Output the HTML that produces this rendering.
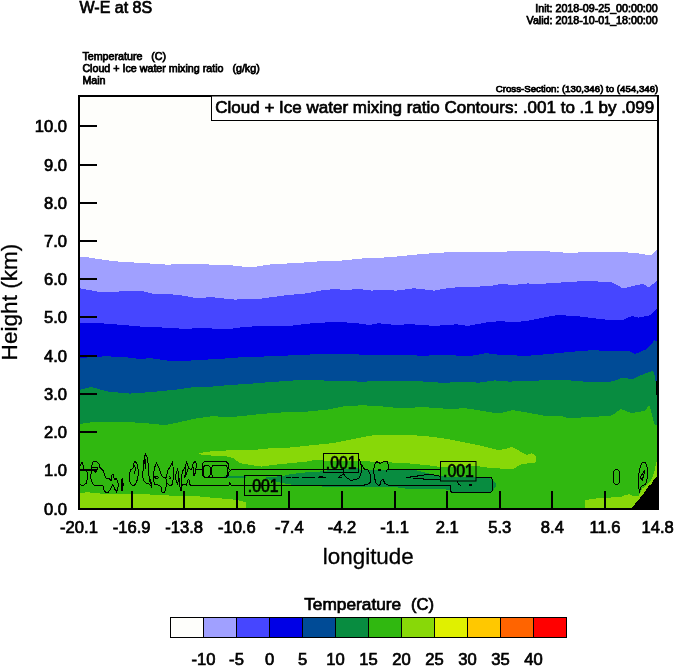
<!DOCTYPE html>
<html lang="en">
<head>
<meta charset="utf-8">
<title>W-E at 8S</title>
<style>
html,body{margin:0;padding:0;background:#fff;}
body{width:674px;height:667px;overflow:hidden;}
svg{display:block;font-family:"Liberation Sans",Arial,Helvetica,sans-serif;fill:#000;}
text{stroke:#000;stroke-width:0.7px;}
text.s{stroke-width:0.75px;}
text.b{stroke-width:0.3px;}
</style>
</head>
<body>
<svg width="674" height="667" viewBox="0 0 674 667">
<rect width="674" height="667" fill="#fff"/>
<g shape-rendering="crispEdges">
<rect x="80" y="97" width="577" height="411" fill="#fefefb"/>
<polygon fill="#a0a0ff" points="80.0,257.5 84.7,256.9 98.0,259.0 116.0,261.4 145.5,263.2 168.0,264.7 179.0,264.0 199.4,264.0 213.0,264.7 228.0,265.0 241.5,266.5 257.0,266.5 273.0,264.0 295.5,263.2 318.0,261.4 340.4,260.7 363.0,258.4 378.0,258.0 400.5,256.2 423.0,253.9 445.5,252.4 468.0,251.7 490.4,252.4 513.0,251.2 528.0,250.6 546.5,251.2 569.0,253.0 591.5,251.7 614.0,251.7 636.4,253.0 650.0,255.3 653.0,254.0 657.0,249.4 657.0,508.0 80.0,508.0"/>
<polygon fill="#4646ff" points="80.0,288.3 98.2,291.7 114.0,292.2 123.0,291.0 143.0,291.3 154.5,294.0 177.0,294.6 195.0,297.8 213.0,297.3 228.0,298.9 234.7,299.6 261.7,298.5 284.0,295.5 306.7,293.3 324.7,289.9 336.0,289.0 345.0,290.1 358.4,289.0 372.0,290.6 378.0,289.5 396.0,290.6 414.0,288.3 434.2,290.6 450.0,287.7 472.4,286.8 490.4,286.1 501.7,283.8 513.0,285.0 528.0,283.4 535.0,284.3 557.7,282.7 587.0,280.9 611.7,282.3 623.0,288.3 643.0,283.8 648.8,287.7 657.0,280.5 657.0,508.0 80.0,508.0"/>
<polygon fill="#0000e6" points="80.0,322.7 100.5,323.2 123.0,325.0 145.5,327.0 168.0,327.7 183.7,328.8 204.0,328.1 228.0,329.3 241.5,327.2 261.7,325.9 288.7,326.1 306.7,323.7 324.7,322.5 340.4,322.0 356.2,323.2 369.7,325.0 378.0,323.2 393.7,324.8 411.7,324.3 434.2,325.9 456.7,324.3 468.0,325.9 486.0,322.5 501.7,321.0 513.0,322.5 528.0,320.7 557.7,314.9 580.0,316.5 607.0,319.8 623.0,319.8 632.0,316.0 638.7,317.6 650.0,315.3 657.0,308.6 657.0,508.0 80.0,508.0"/>
<polygon fill="#004b96" points="80.0,358.0 105.0,356.3 123.0,356.9 141.0,359.2 150.0,358.0 172.4,361.4 195.0,360.3 213.0,359.2 228.0,358.3 246.0,356.9 273.0,356.3 295.5,355.1 318.0,354.2 340.4,353.6 363.0,354.7 378.0,354.6 400.5,354.7 423.0,355.8 445.5,354.7 468.0,356.5 486.0,353.1 501.7,355.1 528.0,355.8 546.5,354.2 569.0,352.0 591.5,350.2 614.0,351.1 629.7,351.1 634.6,353.9 640.0,352.0 647.0,349.0 651.0,344.8 654.4,339.9 657.0,341.5 657.0,508.0 80.0,508.0"/>
<polygon fill="#088c40" points="80.0,389.7 91.5,387.0 107.0,391.4 129.7,393.6 152.0,392.0 174.7,389.8 195.0,386.9 213.0,386.5 228.0,385.2 250.5,383.7 273.0,381.9 295.5,380.3 318.0,380.3 340.4,381.0 363.0,381.7 378.0,381.0 411.7,380.6 418.5,381.2 441.0,382.7 468.0,382.1 479.0,382.7 495.0,380.4 510.0,381.7 522.0,380.5 528.0,381.2 546.5,380.0 569.0,380.3 591.5,382.3 609.5,381.7 614.0,381.1 620.6,378.2 626.4,378.2 632.0,379.5 638.7,376.2 647.0,372.9 652.8,370.9 654.4,374.5 655.2,381.1 657.0,381.1 657.0,508.0 80.0,508.0"/>
<polygon fill="#30b810" points="80.0,424.0 91.5,422.2 118.5,421.7 141.0,422.8 165.7,425.1 179.0,422.2 197.0,418.3 213.0,416.1 228.0,417.4 241.5,416.1 261.7,413.9 284.0,412.3 306.7,411.6 329.2,409.4 345.0,406.0 363.0,405.3 378.0,406.0 400.5,408.2 423.0,407.1 445.5,408.7 466.7,408.4 481.0,410.7 493.4,412.8 502.3,412.8 513.0,410.1 523.7,411.9 543.3,415.5 560.0,415.7 569.0,418.3 591.5,416.8 609.5,416.1 614.0,414.1 620.6,409.2 630.5,412.5 635.4,412.5 645.3,410.8 649.0,405.0 651.0,410.8 654.4,424.0 657.0,425.6 657.0,508.0 80.0,508.0"/>
<polygon fill="#88d808"  points="80.0,492.8 88.0,492.3 100.5,493.5 111.0,493.5 132.8,494.0 161.0,494.8 177.7,496.2 199.9,496.5 216.5,498.2 229.8,499.0 239.7,500.7 245.5,502.3 246.4,508.0 80.0,508.0"/>
<polygon fill="#88d808"  points="584.8,508.0 584.8,500.6 591.4,499.0 602.7,497.7 619.8,497.3 625.3,495.1 629.6,494.3 633.0,496.2 638.4,496.2 640.0,493.0 642.3,488.5 644.0,487.4 647.2,484.2 650.5,480.9 652.7,476.5 654.6,471.0 656.0,463.3 657.0,460.0 657.0,508.0"/>
<polygon fill="#088c40"  points="265.7,477.5 272.0,476.8 281.0,476.3 291.6,474.0 304.0,472.6 318.6,471.6 323.5,471.2 335.0,468.8 358.6,468.4 360.0,469.6 388.0,469.6 415.0,470.0 423.0,472.0 431.6,474.3 440.4,476.0 450.0,477.0 476.0,477.5 488.0,477.6 491.0,479.0 494.0,481.5 496.8,485.0 494.0,489.0 491.5,491.8 470.0,492.0 451.7,492.0 450.5,489.6 440.0,489.4 425.0,489.2 402.0,488.4 397.0,487.4 381.5,487.2 345.0,487.3 334.0,487.3 315.7,486.1 304.0,485.1 291.6,484.7 281.0,482.7 272.0,480.5 265.7,478.5"/>
<polygon fill="#088c40"  points="223.0,476.3 235.0,475.9 246.0,476.3 246.0,478.3 230.0,478.3"/>
<polygon fill="#88d808"  points="199.5,453.5 205.0,452.0 216.5,450.8 233.0,450.3 249.7,449.6 256.6,449.6 273.2,448.0 289.9,447.5 306.5,445.8 323.0,444.1 331.6,443.3 348.2,440.0 364.8,436.7 373.0,435.3 396.0,434.8 415.0,435.3 431.6,436.7 448.2,439.2 464.8,442.5 481.5,445.8 498.0,450.0 504.7,449.1 511.6,447.0 518.0,450.0 521.6,452.4 526.6,454.9 531.6,453.3 535.7,455.8 536.0,462.4 531.0,463.2 521.6,464.0 518.0,466.0 513.3,469.0 508.0,469.5 498.0,468.2 484.8,467.4 476.5,465.7 440.0,467.0 431.6,465.7 415.0,464.0 406.4,463.2 389.8,462.4 369.8,461.5 359.9,460.8 323.0,460.5 314.8,459.9 306.5,461.6 289.9,463.2 273.2,464.9 261.6,466.6 250.0,464.9 240.0,463.2 233.0,458.0 228.0,456.6 216.5,455.8 201.5,455.0"/>
<polygon fill="#000"  points="631.8,508.0 640.6,497.3 643.9,493.0 648.3,486.4 651.6,483.6 654.9,478.1 657.0,476.5 657.0,508.0"/>
<polygon fill="#000"  points="655.6,381.0 657.0,381.0 657.0,394.5 655.6,394.5"/>
</g>
<g shape-rendering="crispEdges">
<path fill="none" stroke="#000" stroke-width="1" d="M80.0,466.0 L82.1,462.4 L83.6,466.8 L84.0,469.0 M86.9,471.3 L87.6,478.0 L86.2,483.2 L83.2,485.8 L80.0,484.6 M93.2,461.3 L96.5,461.3 L99.1,463.9 L99.9,467.6 L103.2,470.5 L104.7,475.0 L105.8,478.0 L109.2,478.7 L111.0,480.6 L112.1,475.0 L113.2,474.3 L114.3,479.4 L116.6,478.7 L118.1,483.2 L118.4,485.4 L116.6,492.0 L115.1,489.8 L113.6,485.4 L112.9,484.6 L110.6,489.1 L108.0,492.4 L105.4,492.0 L103.6,489.8 L102.9,485.8 L93.6,485.0 L91.7,481.7 L90.2,476.5 L91.7,471.3 L92.1,463.9Z M92.5,467.5 L97.5,467.8 L97.5,470.0 M94.0,471.8 L96.5,471.8 L95.3,473.0 M122.1,478.3 L121.0,485.0 L122.1,491.3 L123.3,485.0Z M122.1,478.3 L122.1,491.3 M135.2,461.0 L137.2,464.7 L138.5,471.2 L137.7,478.6 L135.6,484.3 L133.2,485.9 L130.3,483.5 L129.1,476.9 L130.3,470.4 L133.2,467.6 L134.0,463.1Z M134.8,464.7 L135.2,469.6 L134.6,474.5 M145.4,454.1 L147.4,457.3 L148.3,466.3 L149.1,476.9 L151.1,482.7 L151.1,486.3 L148.7,483.5 L146.6,483.9 L143.8,481.0 L142.6,476.9 L143.4,466.3 L144.2,458.2Z M144.6,459.0 L145.4,468.8 M145.4,459.0 L145.6,468.8 M149.5,480.0 L150.5,484.0 M156.4,463.1 L159.3,468.8 L161.3,474.5 L162.1,476.5 L165.8,478.2 L166.6,482.7 L165.8,489.2 L164.2,492.4 L161.7,492.0 L160.9,486.7 L159.3,485.1 L154.8,484.7 L153.6,481.0 L153.2,474.5 L154.8,467.1Z M154.4,477.0 L157.7,476.5 L158.5,477.8 L156.0,478.6Z M165.8,478.2 L167.9,470.4 L170.7,465.5 L172.3,462.2 L173.2,467.6 L173.6,476.9 L172.3,484.3 L170.3,485.9 L168.3,484.3 L166.6,482.7 M169.5,476.0 L170.7,477.8 L169.5,478.6 M177.5,469.4 L176.3,473.0 L175.4,477.2 L176.6,482.0 L177.5,485.0 L178.3,480.0 L178.7,473.0Z M178.7,475.0 L179.3,480.5 L179.6,486.2 L180.5,488.6 L181.1,491.3 L181.7,488.6 L181.4,482.0 L181.7,476.0 L182.6,471.2 L184.4,468.8 L185.9,465.2 L186.5,461.3 L187.4,464.0 L188.3,467.0 L187.7,470.6 L186.2,474.2 L184.4,478.4 L185.0,474.8 L185.6,470.6 L185.3,466.0 M181.8,486.5 L182.6,485.0 L184.1,484.4 L186.2,485.0 L188.0,480.2 L188.9,479.6 L189.5,483.8 L190.4,485.2 L228.8,485.2 L230.0,482.6 L231.2,485.2 L244.5,485.2 M188.3,467.0 L189.2,468.8 L191.0,469.4 L192.5,467.6 L192.8,464.6 L194.6,461.3 L195.8,461.6 L196.4,465.2 L195.8,469.4 L195.5,472.4 L194.0,476.0 L193.4,474.2 L193.7,468.8 L192.8,466.5 M196.2,469.6 L202.3,469.6 M204.3,461.6 L226,461.6 L228,463.6 L228,468 L230.6,470.3 L228,473 L228,475.4 L226,477.4 L204.3,477.4 L202.3,475.4 L202.3,463.6 Z M206.8,465 C209.5,465 210.8,468 210.8,471.2 C210.8,474.5 209.5,477.4 206.8,477.4 C204.2,477.4 203,474.5 203,471.2 C203,468 204.2,465 206.8,465 Z M214,465 L225,465 C227,465 227.5,467 227.5,471 C227.5,475 227,477.4 225,477.4 L214,477.4 C212,477.4 211.5,475 211.5,471 C211.5,467 212,465 214,465 Z M230.6,469.5 L343.5,469.5 M244.5,485.5 L364.4,485.5 M339.0,476.7 L343.5,474.0 L343.0,468.0 M343.5,474.0 L346.6,477.6 L350.6,480.3 L354.1,479.8 L358.6,478.5 L360.8,474.9 L361.7,467.8 L360.4,461.6 L358.6,458.9 M361.7,465.1 L364.4,469.1 L367.9,470.0 L370.2,474.0 L370.6,480.3 L369.7,483.8 L364.4,484.6 L364.4,485.5 M376.8,461.6 L380.4,463.4 L383.5,461.6 L387.1,461.6 L388.4,465.1 L388.9,469.1 L387.1,469.6 L386.6,471.8 L387.5,472.5 M376.8,461.6 L374.6,464.2 L373.7,469.6 L374.2,476.7 L376.0,482.9 L378.6,485.6 L380.0,484.7 L381.3,480.3 L383.1,479.4 L384.9,483.4 L388.4,485.2 L392.0,485.5 M378.2,469.2 L380.8,469.2 M378.2,470.0 L380.8,470.0 M388.9,469.5 L440.5,469.5 M392.0,485.5 L450.5,485.5 L450.5,491.0 L452.0,492.4 L490.5,492.4 L492.1,491.0 L492.1,479.0 L490.9,477.5 L475.8,477.5 M286.3,477.5 L290.6,477.5 M292.0,477.5 L298.8,477.5 M302.2,477.5 L314.7,477.5 M318.0,477.5 L325.8,477.5 M318.6,476.5 L323.0,476.5 M337.9,477.5 L341.7,477.5 M405.8,477.5 L410.5,477.5 L411.0,476.5 L417.0,476.5 L417.5,475.5 L421.0,475.5 L428.0,474.5 L431.0,474.5 L440.5,476.3 M412.9,478.5 L423.0,478.5 L423.0,479.5 L440.5,479.5 M457.6,480.5 L458.2,484.5 L460.6,485.3 M468.9,484.5 L471.9,484.5 M468.9,485.3 L471.9,485.3 M616.5,469.3 C618.6,469.3 619.8,473 619.8,477 C619.8,481 618.6,484.7 616.5,484.7 C614.4,484.7 613.2,481 613.2,477 C613.2,473 614.4,469.3 616.5,469.3 Z M642.3,462.2 L645.6,462.2 L647.2,467.7 L647.8,476.5 L645.6,484.2 L641.2,486.4 L639.5,491.3 L638.4,486.4 L638.2,477.6 L639.5,469.9 L641.2,464.4Z M640.1,477.0 L642.3,480.3 L645.0,469.9 L642.3,474.3Z"/>
</g>
<g>
<rect x="244.5" y="475.5" width="37.0" height="20.0" fill="none" stroke="#000" stroke-width="1"/>
<text x="263.2" y="491.8" font-size="18" text-anchor="middle" textLength="30.8" lengthAdjust="spacingAndGlyphs">.001</text>
<rect x="323.5" y="453.5" width="35.0" height="19.0" fill="none" stroke="#000" stroke-width="1"/>
<text x="341.2" y="468.8" font-size="18" text-anchor="middle" textLength="30.8" lengthAdjust="spacingAndGlyphs">.001</text>
<rect x="440.5" y="461.5" width="35.5" height="19.5" fill="none" stroke="#000" stroke-width="1"/>
<text x="458.4" y="477.3" font-size="18" text-anchor="middle" textLength="30.8" lengthAdjust="spacingAndGlyphs">.001</text>
</g>
<g shape-rendering="crispEdges">
<rect x="79" y="96" width="579" height="413" fill="none" stroke="#000" stroke-width="2"/>
<path stroke="#000" stroke-width="2" fill="none" d="M80,470.0 H97 M80,432.0 H97 M80,394.0 H97 M80,356.0 H97 M80,317.0 H97 M80,279.0 H97 M80,241.0 H97 M80,203.0 H97 M80,165.0 H97 M80,126.0 H97 M131.6,508 V491 M184.2,508 V491 M236.8,508 V491 M289.4,508 V491 M342.0,508 V491 M394.6,508 V491 M447.2,508 V491 M499.8,508 V491 M552.4,508 V491 M605.0,508 V491"/>
</g>
<g>
<text x="67" y="515.1" font-size="16.6" text-anchor="end">0.0</text>
<text x="67" y="476.1" font-size="16.6" text-anchor="end">1.0</text>
<text x="67" y="438.1" font-size="16.6" text-anchor="end">2.0</text>
<text x="67" y="400.1" font-size="16.6" text-anchor="end">3.0</text>
<text x="67" y="362.1" font-size="16.6" text-anchor="end">4.0</text>
<text x="67" y="323.1" font-size="16.6" text-anchor="end">5.0</text>
<text x="67" y="285.1" font-size="16.6" text-anchor="end">6.0</text>
<text x="67" y="247.1" font-size="16.6" text-anchor="end">7.0</text>
<text x="67" y="209.1" font-size="16.6" text-anchor="end">8.0</text>
<text x="67" y="171.1" font-size="16.6" text-anchor="end">9.0</text>
<text x="67" y="132.1" font-size="16.6" text-anchor="end">10.0</text>
<text x="79.0" y="533" font-size="16.6" text-anchor="middle">-20.1</text>
<text x="131.6" y="533" font-size="16.6" text-anchor="middle">-16.9</text>
<text x="184.2" y="533" font-size="16.6" text-anchor="middle">-13.8</text>
<text x="236.8" y="533" font-size="16.6" text-anchor="middle">-10.6</text>
<text x="289.4" y="533" font-size="16.6" text-anchor="middle">-7.4</text>
<text x="342.0" y="533" font-size="16.6" text-anchor="middle">-4.2</text>
<text x="394.6" y="533" font-size="16.6" text-anchor="middle">-1.1</text>
<text x="447.2" y="533" font-size="16.6" text-anchor="middle">2.1</text>
<text x="499.8" y="533" font-size="16.6" text-anchor="middle">5.3</text>
<text x="552.4" y="533" font-size="16.6" text-anchor="middle">8.4</text>
<text x="605.0" y="533" font-size="16.6" text-anchor="middle">11.6</text>
<text x="657.6" y="533" font-size="16.6" text-anchor="middle">14.8</text>
<text x="368.3" y="563.6" class="b" font-size="22.4" text-anchor="middle">longitude</text>
<text transform="translate(16.8,302) rotate(-90)" class="b" font-size="22.6" text-anchor="middle">Height (km)</text>
<text x="79.5" y="13" font-size="16">W-E at 8S</text>
<text x="657.7" y="11.7" class="s" font-size="10.7" text-anchor="end">Init: 2018-09-25_00:00:00</text>
<text x="657.7" y="23.8" class="s" font-size="10.7" text-anchor="end">Valid: 2018-10-01_18:00:00</text>
<text x="82.4" y="59.8" class="s" font-size="10.7" xml:space="preserve" style="white-space:pre">Temperature   (C)</text>
<text x="82.4" y="71.8" class="s" font-size="10.7" xml:space="preserve" style="white-space:pre">Cloud + Ice water mixing ratio   (g/kg)</text>
<text x="82.4" y="83.7" class="s" font-size="10.7">Main</text>
<text x="658.3" y="92.2" class="s" font-size="9.7" text-anchor="end">Cross-Section: (130,346) to (454,346)</text>
<rect x="211.5" y="96" width="446" height="24.5" fill="#fff" stroke="#000" stroke-width="1"/>
<text x="215.3" y="112.8" font-size="17">Cloud + Ice water mixing ratio Contours: .001 to .1 by .099</text>
<text x="304.2" y="610.2" font-size="16.6" textLength="97" lengthAdjust="spacingAndGlyphs">Temperature</text>
<text x="411" y="610.2" font-size="16.6">(C)</text>
<rect x="170.5" y="617.5" width="33" height="20" fill="#fefefb" stroke="#000" stroke-width="1"/>
<rect x="203.5" y="617.5" width="33" height="20" fill="#a0a0ff" stroke="#000" stroke-width="1"/>
<rect x="236.5" y="617.5" width="33" height="20" fill="#4646ff" stroke="#000" stroke-width="1"/>
<rect x="269.5" y="617.5" width="33" height="20" fill="#0000e6" stroke="#000" stroke-width="1"/>
<rect x="302.5" y="617.5" width="33" height="20" fill="#004b96" stroke="#000" stroke-width="1"/>
<rect x="335.5" y="617.5" width="33" height="20" fill="#088c40" stroke="#000" stroke-width="1"/>
<rect x="368.5" y="617.5" width="33" height="20" fill="#30b810" stroke="#000" stroke-width="1"/>
<rect x="401.5" y="617.5" width="33" height="20" fill="#88d808" stroke="#000" stroke-width="1"/>
<rect x="434.5" y="617.5" width="33" height="20" fill="#e0f000" stroke="#000" stroke-width="1"/>
<rect x="467.5" y="617.5" width="33" height="20" fill="#ffc800" stroke="#000" stroke-width="1"/>
<rect x="500.5" y="617.5" width="33" height="20" fill="#ff6400" stroke="#000" stroke-width="1"/>
<rect x="533.5" y="617.5" width="33" height="20" fill="#ff0000" stroke="#000" stroke-width="1"/>
<text x="203.5" y="664.8" font-size="16.6" text-anchor="middle">-10</text>
<text x="236.5" y="664.8" font-size="16.6" text-anchor="middle">-5</text>
<text x="269.5" y="664.8" font-size="16.6" text-anchor="middle">0</text>
<text x="302.5" y="664.8" font-size="16.6" text-anchor="middle">5</text>
<text x="335.5" y="664.8" font-size="16.6" text-anchor="middle">10</text>
<text x="368.5" y="664.8" font-size="16.6" text-anchor="middle">15</text>
<text x="401.5" y="664.8" font-size="16.6" text-anchor="middle">20</text>
<text x="434.5" y="664.8" font-size="16.6" text-anchor="middle">25</text>
<text x="467.5" y="664.8" font-size="16.6" text-anchor="middle">30</text>
<text x="500.5" y="664.8" font-size="16.6" text-anchor="middle">35</text>
<text x="533.5" y="664.8" font-size="16.6" text-anchor="middle">40</text>
</g>
</svg>
</body>
</html>
